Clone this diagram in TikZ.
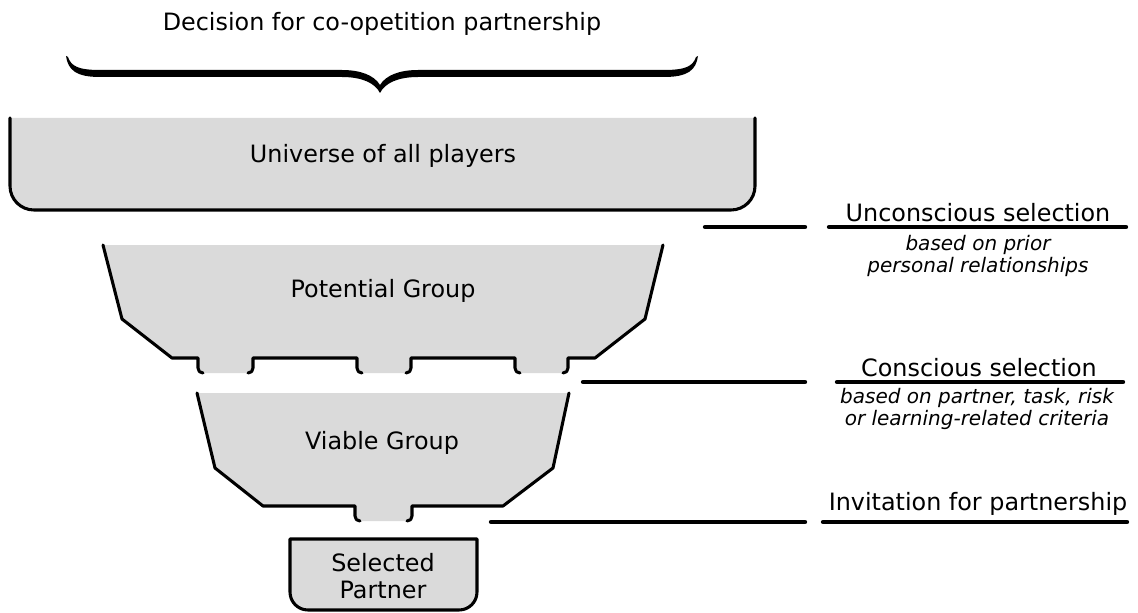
\documentclass[tikz,border=0pt]{standalone}
\usepackage{fontspec}
\setmainfont{DejaVu Sans}
\definecolor{boxgray}{RGB}{218,218,218}
\begin{document}
\begin{tikzpicture}[x=0.75pt,y=-0.75pt,
  stage/.style={fill=boxgray,draw=none},
  rim/.style={line width=2.3pt,line join=round,line cap=round},
  rule/.style={line width=3.3pt,line cap=round},
  label/.style={inner sep=0pt,anchor=base,font=\fontsize{17.9}{20}\selectfont},
  note/.style={inner sep=0pt,anchor=base,font=\fontsize{15}{17}\selectfont\itshape}]
\useasboundingbox (0,0) rectangle (1138,613);

% heading and brace
\node[label] (title) at (382,31) {Decision for co-opetition partnership};
\fill (66,56) .. controls (68,70) and (76,77) .. (100,77) -- (342,77)
  .. controls (362,77) and (375,83) .. (380,93)
  .. controls (385,83) and (398,77) .. (418,77) -- (664,77)
  .. controls (688,77) and (696,70) .. (698,56)
  -- (696,57) .. controls (693,66) and (686,70) .. (664,70) -- (418,70)
  .. controls (400,70) and (386,75) .. (380,85)
  .. controls (374,75) and (360,70) .. (342,70) -- (100,70)
  .. controls (78,70) and (71,66) .. (68,57) -- cycle;

% universe of all players
\fill[boxgray] (10,118) -- (10,186) .. controls (10,199.3) and (20.7,210) .. (34,210)
  -- (731,210) .. controls (744.3,210) and (755,199.3) .. (755,186) -- (755,118) -- cycle;
\draw[rim] (10,118) -- (10,186) .. controls (10,199.3) and (20.7,210) .. (34,210)
  -- (731,210) .. controls (744.3,210) and (755,199.3) .. (755,186) -- (755,118);
\node[label] (universe) at (383,163) {Universe of all players};

% potential group with three outlets
\fill[boxgray] (103,245) -- (122,319) -- (172,358) -- (198,358) -- (198,368)
  .. controls (198,371) and (200,373) .. (203,373) -- (248,373)
  .. controls (251,373) and (253,371) .. (253,368) -- (253,358) -- (357,358) -- (357,368)
  .. controls (357,371) and (359,373) .. (362,373) -- (406,373)
  .. controls (409,373) and (411,371) .. (411,368) -- (411,358) -- (515,358) -- (515,368)
  .. controls (515,371) and (517,373) .. (520,373) -- (563,373)
  .. controls (566,373) and (568,371) .. (568,368) -- (568,358) -- (595,358)
  -- (645,319) -- (663,245) -- cycle;
\draw[rim] (103,245) -- (122,319) -- (172,358) -- (198,358) -- (198,368)
  .. controls (198,371) and (200,373) .. (203,373);
\draw[rim] (248,373) .. controls (251,373) and (253,371) .. (253,368) -- (253,358)
  -- (357,358) -- (357,368) .. controls (357,371) and (359,373) .. (362,373);
\draw[rim] (406,373) .. controls (409,373) and (411,371) .. (411,368) -- (411,358)
  -- (515,358) -- (515,368) .. controls (515,371) and (517,373) .. (520,373);
\draw[rim] (563,373) .. controls (566,373) and (568,371) .. (568,368) -- (568,358)
  -- (595,358) -- (645,319) -- (663,245);
\node[label] (potential) at (383,297) {Potential Group};

% viable group with one outlet
\fill[boxgray] (197,393) -- (215,468) -- (263,506) -- (355,506) -- (355,516)
  .. controls (355,519) and (357,521) .. (360,521) -- (407,521)
  .. controls (410,521) and (412,519) .. (412,516) -- (412,506) -- (503,506)
  -- (553,468) -- (569,393) -- cycle;
\draw[rim] (197,393) -- (215,468) -- (263,506) -- (355,506) -- (355,516)
  .. controls (355,519) and (357,521) .. (360,521);
\draw[rim] (407,521) .. controls (410,521) and (412,519) .. (412,516) -- (412,506)
  -- (503,506) -- (553,468) -- (569,393);
\node[label] (viable) at (382,449) {Viable Group};

% selected partner
\draw[rim,fill=boxgray] (290,539) -- (290,592) .. controls (290,602) and (298,610) .. (308,610)
  -- (459,610) .. controls (469,610) and (477,602) .. (477,592) -- (477,539) -- cycle;
\node[label] (selA) at (383,571) {Selected};
\node[label] (selB) at (383,598) {Partner};

% selection steps on the right
\coordinate (u1) at (705,227); \coordinate (u2) at (805,227);
\coordinate (u3) at (829,227); \coordinate (u4) at (1126,227);
\draw[rule] (u1) -- (u2);
\draw[rule] (u3) -- (u4);
\node[label] (uncon) at (978,221) {Unconscious selection};
\node[note] (unconA) at (978,250) {based on prior};
\node[note] (unconB) at (978,272) {personal relationships};

\coordinate (c1) at (583,382); \coordinate (c2) at (805,382);
\coordinate (c3) at (837,382); \coordinate (c4) at (1123,382);
\draw[rule] (c1) -- (c2);
\draw[rule] (c3) -- (c4);
\node[label] (con) at (979,376) {Conscious selection};
\node[note] (conA) at (977,403) {based on partner, task, risk};
\node[note] (conB) at (977,425) {or learning-related criteria};

\coordinate (i1) at (491,522); \coordinate (i2) at (805,522);
\coordinate (i3) at (823,522); \coordinate (i4) at (1127,522);
\draw[rule] (i1) -- (i2);
\draw[rule] (i3) -- (i4);
\node[label] (invite) at (978,510) {Invitation for partnership};
\end{tikzpicture}
\end{document}
